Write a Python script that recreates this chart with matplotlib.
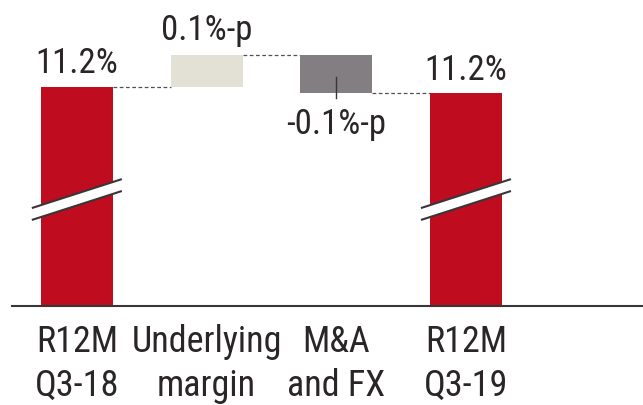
import matplotlib
matplotlib.use("Agg")
import matplotlib.pyplot as plt
from matplotlib import font_manager as fm
from matplotlib.patches import Polygon

names = {f.name for f in fm.fontManager.ttflist}
FONT = "Liberation Sans"
for cand in ("Liberation Sans Narrow", "Arial Narrow", "Roboto Condensed", "Archivo Narrow", "PT Sans Narrow"):
    if cand in names:
        FONT = cand
        break
plt.rcParams["font.family"] = [FONT, "DejaVu Sans"]

# ---- data ----
categories = ["R12M\nQ3-18", "Underlying\nmargin", "M&A\nand FX", "R12M\nQ3-19"]
start_value = 11.23
changes = [0.10, -0.12]
end_value = 11.21
value_labels = ["11.2%", "0.1%-p", "-0.1%-p", "11.2%"]

RED = "#BF0D1F"
BEIGE = "#E3E1D6"
GRAY = "#827E81"
TEXT = "#2A2527"
AXIS = "#3A3538"

fig = plt.figure(figsize=(6.43, 4.05), dpi=100)
ax = fig.add_axes([12 / 643, (405 - 305.5) / 405, 1 - 12 / 643, 305.5 / 405])
ymin, ymax = 10.55, 11.5
ax.set_ylim(ymin, ymax)
ax.set_xlim(-0.5, 4.365)
W = 0.555

# bars
ax.bar(0, start_value - ymin, bottom=ymin, width=W, color=RED, zorder=2)
lvl1 = start_value + changes[0]
ax.bar(1, changes[0], bottom=start_value, width=W, color=BEIGE, zorder=2)
lvl2 = lvl1 + changes[1]
ax.bar(2, changes[1], bottom=lvl1, width=W, color=GRAY, zorder=2)
ax.bar(3, end_value - ymin, bottom=ymin, width=W, color=RED, zorder=2)

# connectors
conn = dict(color="#555052", lw=0.9, ls=(0, (3, 2)), zorder=1)
ax.plot([0 + W / 2, 1 - W / 2], [start_value, start_value], **conn)
ax.plot([1 + W / 2, 2 - W / 2], [lvl1, lvl1], **conn)
ax.plot([2 + W / 2, 3 - W / 2], [lvl2, lvl2], **conn)

# break marks
for xc in (0, 3):
    x0, x1 = xc - 0.347, xc + 0.347
    ya0, ya1 = 10.853, 10.943
    yb0, yb1 = 10.816, 10.906
    poly = Polygon([[x0, ya0], [x1, ya1], [x1, yb1], [x0, yb0]], closed=True,
                   facecolor="white", edgecolor="none", zorder=3)
    ax.add_patch(poly)
    ax.plot([x0, x1], [ya0, ya1], color=AXIS, lw=1.5, zorder=4, solid_capstyle="butt")
    ax.plot([x0, x1], [yb0, yb1], color=AXIS, lw=1.5, zorder=4, solid_capstyle="butt")

# leader line for negative label
ax.plot([2, 2], [11.26, 11.195], color=AXIS, lw=1.0, zorder=4)

# value labels
fs_val = 25
ax.text(0, start_value + 0.043, value_labels[0], ha="center", va="baseline",
        fontsize=fs_val, color=TEXT)
ax.text(1, lvl1 + 0.047, value_labels[1], ha="center", va="baseline",
        fontsize=fs_val, color=TEXT)
ax.text(2, 11.5 - 134 / 321.6, value_labels[2], ha="center", va="baseline",
        fontsize=fs_val, color=TEXT)
ax.text(3, end_value + 0.04, value_labels[3], ha="center", va="baseline",
        fontsize=fs_val, color=TEXT)

# axes styling
for s in ("top", "right", "left"):
    ax.spines[s].set_visible(False)
ax.spines["bottom"].set_color(AXIS)
ax.spines["bottom"].set_linewidth(1.5)
ax.set_yticks([])
ax.set_xticks(range(4))
ax.set_xticklabels(categories, fontsize=26, color=TEXT, linespacing=1.3)
ax.tick_params(axis="x", length=0, pad=13)

fig.savefig("out.png", dpi=100)
